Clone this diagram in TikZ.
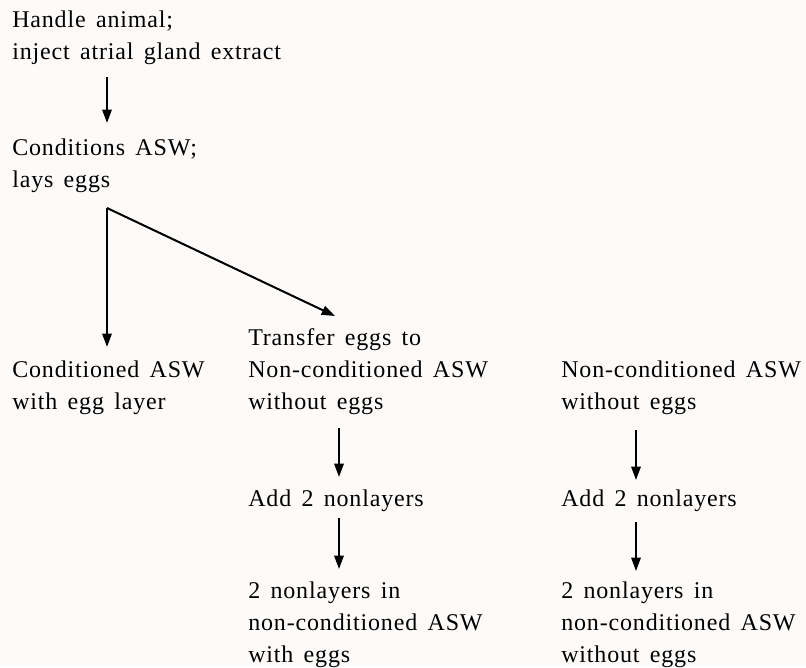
\documentclass[tikz,border=0pt]{standalone}
\usepackage{fontspec}
\setmainfont{Liberation Serif}[LetterSpace=3.5,WordSpace=1.5]
\usetikzlibrary{arrows.meta}
\definecolor{paper}{RGB}{253,251,249}

\begin{document}
\begin{tikzpicture}[x=0.75pt,y=0.75pt,yscale=-1,xscale=1,
  lbl/.style={anchor=base west,inner sep=0pt,align=left,font=\fontsize{18}{24}\selectfont},
  arr/.style={line width=1.5pt,-{Triangle[length=10pt,width=7pt]}}]
%set diagram left start at 0, and has height of 667
\fill[paper] (0,0) rectangle (806,667);
\useasboundingbox (0,0) rectangle (806,667);

% Text Node (base = last line)
\node (hand) at (12,60) [lbl] {Handle animal;\\inject atrial gland extract};
% Text Node
\node (cond) at (12,187) [lbl] {Conditions ASW;\\lays eggs};
% Text Node
\node (withlayer) at (12,409) [lbl] {Conditioned ASW\\with egg layer};
% Text Node
\node (transfer) at (248,409) [lbl] {Transfer eggs to\\Non-conditioned ASW\\without eggs};
% Text Node
\node (noneggs) at (561,409) [lbl] {Non-conditioned ASW\\without eggs};
% Text Node
\node (addmid) at (248,506) [lbl] {Add 2 nonlayers};
% Text Node
\node (addright) at (561,506) [lbl] {Add 2 nonlayers};
% Text Node
\node (endmid) at (248,662) [lbl] {2 nonlayers in\\non-conditioned ASW\\with eggs};
% Text Node
\node (endright) at (561,662) [lbl] {2 nonlayers in\\non-conditioned ASW\\without eggs};

% arrow ends
\coordinate (a1) at (107,77);   \coordinate (b1) at (107,123);
\coordinate (fork) at (107,208);
\coordinate (left) at (107,347); \coordinate (diag) at (335,316);
\coordinate (a2) at (339,428);  \coordinate (b2) at (339,477);
\coordinate (a3) at (339,518);  \coordinate (b3) at (339,569);
\coordinate (a4) at (636,430);  \coordinate (b4) at (636,480);
\coordinate (a5) at (636,522);  \coordinate (b5) at (636,571);

%Straight Lines
\draw [arr] (a1) -- (b1);
%Straight Lines
\draw [arr] (fork) -- (left);
%Straight Lines
\draw [arr] (fork) -- (diag);
%Straight Lines
\draw [arr] (a2) -- (b2);
\draw [arr] (a3) -- (b3);
%Straight Lines
\draw [arr] (a4) -- (b4);
\draw [arr] (a5) -- (b5);

\end{tikzpicture}
\end{document}
